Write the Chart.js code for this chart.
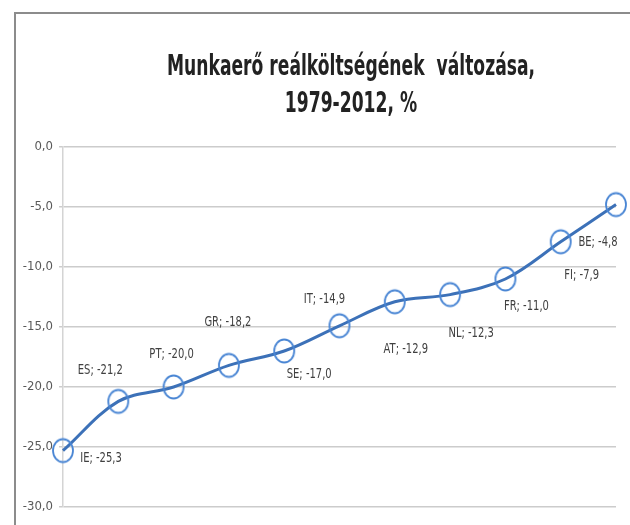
<!DOCTYPE html>
<html>
<head>
<meta charset="utf-8">
<script src="https://cdn.jsdelivr.net/npm/chart.js@4"></script>
<style>
  html, body { margin: 0; padding: 0; background: #fff; }
  #wrap { position: relative; width: 630px; height: 525px; }
</style>
</head>
<body>
<div id="wrap"><canvas id="realCostChart" width="630" height="525"></canvas></div>
<script>
const countries = ["IE", "ES", "PT", "GR", "SE", "IT", "AT", "NL", "FR", "FI", "BE"];
const changes = [-25.3, -21.2, -20.0, -18.2, -17.0, -14.9, -12.9, -12.3, -11.0, -7.9, -4.8];
const yTicks = [0, -5, -10, -15, -20, -25, -30];
const titleLines = ["Munkaerő reálköltségének  változása,", "1979-2012, %"];

const FONT = '"Liberation Sans Narrow", "DejaVu Sans Condensed", "Liberation Sans", sans-serif';

function fmt(v) {
  return v.toFixed(1).replace(".", ",");
}

// where each data label sits relative to its point (px)
const labelOffsets = {
  IE: [38, 8], ES: [-18, -31], PT: [-2, -33], GR: [-1, -43], SE: [25, 23],
  IT: [-15, -27], AT: [11, 47], NL: [21, 39], FR: [21, 27], FI: [21, 33], BE: [-18, 38]
};

/* ===== marker: slightly tall open ellipse ===== */
const marker = document.createElement("canvas");
marker.width = 26;
marker.height = 30;
{
  const m = marker.getContext("2d");
  m.strokeStyle = "#4a86d4";
  m.lineWidth = 1.8;
  m.beginPath();
  m.ellipse(13, 15, 10, 11.5, 0, 0, Math.PI * 2);
  m.stroke();
}

/* ===== plugins ===== */
const framePlugin = {
  id: "frame",
  beforeDraw(chart) {
    const ctx = chart.ctx;
    ctx.save();
    ctx.fillStyle = "#fff";
    ctx.fillRect(0, 0, chart.width, chart.height);
    ctx.strokeStyle = "#8c8c8c";
    ctx.lineWidth = 2;
    ctx.beginPath();
    ctx.moveTo(15, chart.height);
    ctx.lineTo(15, 13);
    ctx.lineTo(chart.width, 13);
    ctx.stroke();
    ctx.restore();
  }
};

const titlePlugin = {
  id: "bigTitle",
  afterDraw(chart) {
    const ctx = chart.ctx;
    ctx.save();
    ctx.font = "bold 26px " + FONT;
    ctx.fillStyle = "#222";
    ctx.textAlign = "center";
    ctx.textBaseline = "alphabetic";
    const sx = 368 / ctx.measureText(titleLines[0]).width;
    const baselines = [75, 112];
    titleLines.forEach((line, i) => {
      ctx.save();
      ctx.translate(351, baselines[i]);
      ctx.scale(sx, 1.1);
      ctx.fillText(line, 0, 0);
      ctx.restore();
    });
    ctx.restore();
  }
};

const pointLabelPlugin = {
  id: "pointLabels",
  afterDatasetsDraw(chart) {
    const ctx = chart.ctx;
    const meta = chart.getDatasetMeta(0);
    ctx.save();
    ctx.font = "14px " + FONT;
    ctx.fillStyle = "#404040";
    ctx.textAlign = "center";
    ctx.textBaseline = "middle";
    meta.data.forEach((pt, i) => {
      const name = countries[i];
      const off = labelOffsets[name] || [0, -20];
      const text = name + "; " + fmt(changes[i]);
      ctx.save();
      ctx.translate(pt.x + off[0], pt.y + off[1]);
      ctx.scale(45 / ctx.measureText("ES; -21,2").width, 1.05);
      ctx.fillText(text, 0, 0);
      ctx.restore();
    });
    ctx.restore();
  }
};

/* ===== LINE CHART ===== */
const ctx = document.getElementById("realCostChart");

new Chart(ctx, {
  type: "line",
  data: {
    labels: countries,
    datasets: [{
      data: changes,
      borderColor: "#3c71b8",
      borderWidth: 3,
      tension: 0.35,
      fill: false,
      pointStyle: marker,
      pointRadius: 11,
      pointHoverRadius: 11
    }]
  },
  options: {
    responsive: false,
    animation: false,
    layout: { padding: { left: 0, right: 11, top: 147, bottom: 18 } },
    plugins: {
      legend: { display: false },
      title: { display: false },
      tooltip: { enabled: false }
    },
    scales: {
      x: { display: false, offset: false },
      y: {
        min: -30,
        max: 0,
        afterFit(scale) { scale.width = 63; },
        afterBuildTicks(scale) { scale.ticks = yTicks.map(v => ({ value: v })); },
        ticks: {
          color: "#595959",
          font: { family: FONT, size: 13 },
          padding: 6,
          callback: v => fmt(v)
        },
        grid: { color: "#cccccc", lineWidth: 1.5, tickLength: 4 },
        border: { display: true, color: "#d4d4d4", width: 1.5 }
      }
    }
  },
  plugins: [framePlugin, titlePlugin, pointLabelPlugin]
});
</script>
</body>
</html>
